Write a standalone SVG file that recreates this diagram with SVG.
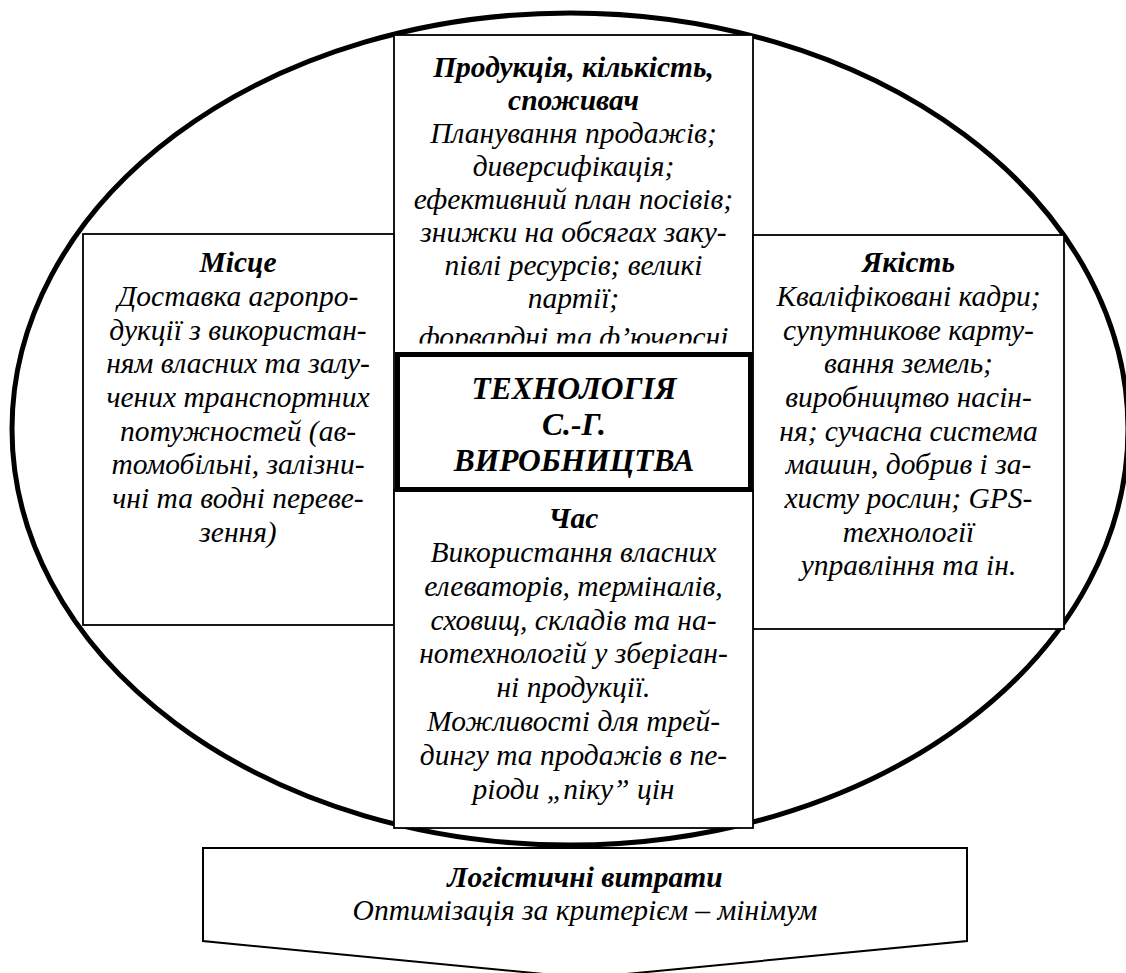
<svg xmlns="http://www.w3.org/2000/svg" width="1126" height="973" viewBox="0 0 1126 973">
<rect width="1126" height="973" fill="#fff"/>
<g id="ellipse">
<ellipse cx="570" cy="429" rx="558" ry="416" fill="none" stroke="#000" stroke-width="5"/>
</g>
<g id="top-node" font-family="serif" font-style="italic" font-size="29.5" text-anchor="middle">
<rect x="394" y="35" width="359" height="314" fill="#fff" stroke="#000" stroke-width="1.8"/>
<text font-weight="bold" x="573.5" y="77">Продукція, кількість,</text>
<text font-weight="bold" x="573.5" y="110">споживач</text>
<text x="573.5" y="143">Планування продажів;</text>
<text x="573.5" y="176">диверсифікація;</text>
<text x="573.5" y="209">ефективний план посівів;</text>
<text x="573.5" y="242">знижки на обсягах заку-</text>
<text x="573.5" y="275">півлі ресурсів; великі</text>
<text x="573.5" y="308">партії;</text>
<text x="573.5" y="347">форвардні та ф’ючерсні</text>
<rect x="395" y="343.5" width="357" height="9" fill="#fff"/>
</g>
<g id="left-node" font-family="serif" font-style="italic" font-size="29.5" text-anchor="middle">
<rect x="83" y="234" width="311" height="391" fill="#fff" stroke="#000" stroke-width="1.8"/>
<text font-weight="bold" x="238" y="272">Місце</text>
<text x="238" y="306">Доставка агропро-</text>
<text x="238" y="340">дукції з використан-</text>
<text x="238" y="373">ням власних та залу-</text>
<text x="238" y="407">чених транспортних</text>
<text x="238" y="441">потужностей (ав-</text>
<text x="238" y="474">томобільні, залізни-</text>
<text x="238" y="508">чні та водні переве-</text>
<text x="238" y="542">зення)</text>
</g>
<g id="right-node" font-family="serif" font-style="italic" font-size="29.5" text-anchor="middle">
<rect x="753" y="235" width="311" height="394" fill="#fff" stroke="#000" stroke-width="1.8"/>
<text font-weight="bold" x="908.5" y="272">Якість</text>
<text x="908.5" y="306">Кваліфіковані кадри;</text>
<text x="908.5" y="340">супутникове карту-</text>
<text x="908.5" y="373">вання земель;</text>
<text x="908.5" y="407">виробництво насін-</text>
<text x="908.5" y="441">ня; сучасна система</text>
<text x="908.5" y="474">машин, добрив і за-</text>
<text x="908.5" y="508">хисту рослин; GPS-</text>
<text x="908.5" y="542">технології</text>
<text x="908.5" y="575">управління та ін.</text>
</g>
<g id="bottom-node" font-family="serif" font-style="italic" font-size="29.5" text-anchor="middle">
<rect x="394" y="490" width="359" height="338" fill="#fff" stroke="#000" stroke-width="1.8"/>
<text font-weight="bold" x="573.5" y="528">Час</text>
<text x="573.5" y="562">Використання власних</text>
<text x="573.5" y="596">елеваторів, терміналів,</text>
<text x="573.5" y="630">сховищ, складів та на-</text>
<text x="573.5" y="663">нотехнологій у зберіган-</text>
<text x="573.5" y="697">ні продукції.</text>
<text x="573.5" y="731">Можливості для трей-</text>
<text x="573.5" y="765">дингу та продажів в пе-</text>
<text x="573.5" y="799">ріоди „піку” цін</text>
</g>
<g id="center-node" font-family="serif" font-style="italic" font-weight="bold" font-size="31.5" text-anchor="middle">
<rect x="397.5" y="354.5" width="353" height="135" fill="#fff" stroke="#000" stroke-width="5"/>
<text x="574" y="399">ТЕХНОЛОГІЯ</text>
<text x="574" y="435">С.-Г.</text>
<text x="574" y="471">ВИРОБНИЦТВА</text>
</g>
<g id="result-node" font-family="serif" font-style="italic" font-size="29.5" text-anchor="middle">
<polygon points="203,848 967,848 967,941 585,978 203,941" fill="#fff" stroke="#000" stroke-width="2"/>
<text font-weight="bold" x="585" y="887">Логістичні витрати</text>
<text x="585" y="920">Оптимізація за критерієм – мінімум</text>
</g>
<g id="connectors"></g>
</svg>
